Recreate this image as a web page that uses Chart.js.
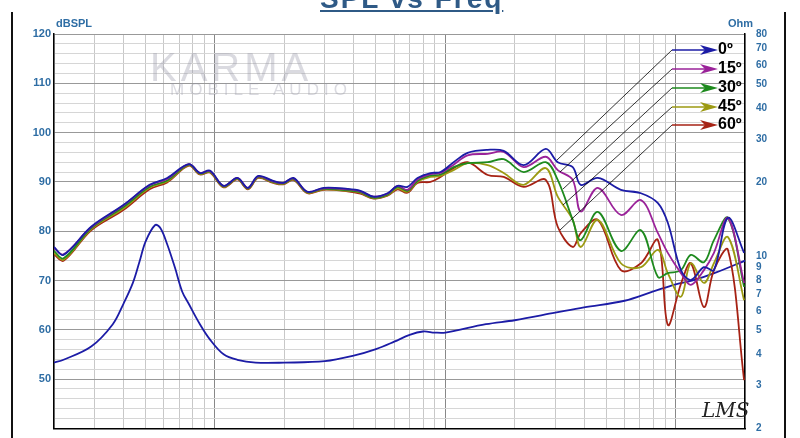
<!DOCTYPE html>
<html>
<head>
<meta charset="utf-8">
<script src="https://cdn.jsdelivr.net/npm/chart.js@4"></script>
<style>
  body { margin: 0; background: #fff; overflow: hidden; }
  #wrap { position: relative; width: 800px; height: 438px; }
  #title { position: absolute; left: 320px; top: -17px; font: bold 28px "Liberation Sans", Arial, sans-serif; color: #2f5a86; text-decoration: underline; letter-spacing: 2px; }
  .unit { position: absolute; top: 17px; font: bold 11px "Liberation Sans", Arial, sans-serif; color: #2e6da4; }
  #mark { position: absolute; left: 150px; top: 45px; font: 40px "Liberation Sans", Arial, sans-serif; color: rgba(150,150,165,0.35); letter-spacing: 4px; }
  #mark2 { position: absolute; left: 170px; top: 80px; font: 17px "Liberation Sans", Arial, sans-serif; color: rgba(150,150,165,0.35); letter-spacing: 5px; }
  #lms { position: absolute; left: 702px; top: 398px; font: italic 20px "DejaVu Serif", serif; color: #222; }
  .frame { position: absolute; top: 12px; width: 2px; height: 426px; background: #111; }
</style>
</head>
<body>
<div id="wrap">
  <canvas id="chart" width="800" height="438"></canvas>
  <div class="frame" style="left:11px"></div>
  <div class="frame" style="left:784px"></div>
  <div id="title">SPL vs Freq</div>
  <div class="unit" style="left:56px">dBSPL</div>
  <div class="unit" style="left:728px">Ohm</div>
  <div id="mark">KARMA</div>
  <div id="mark2">MOBILE AUDIO</div>
  <div id="lms">LMS</div>
</div>
<script>
// frequency points (Hz) shared by the SPL curves
const freqs = [20, 22, 29, 40, 52, 62, 77, 86, 95, 109, 125, 139, 154, 179, 198, 219, 252, 296, 376, 428,
  488, 561, 620, 685, 757, 862, 953, 1086, 1250, 1528, 1792, 2188, 2729, 3076, 3573, 3872, 4592, 5783, 7068, 8376,
  9246, 10540, 11640, 13270, 14660, 16870, 19820];

const spl0 = [76.8, 75.2, 80.9, 85.3, 89.4, 90.8, 93.6, 91.8, 92.3, 89.2, 90.8, 88.8, 91.2, 90.2, 89.8, 90.8, 88.0, 88.8, 88.6, 88.2,
  87.0, 87.7, 89.2, 89.0, 90.8, 91.8, 92.0, 94.0, 95.9, 96.5, 96.3, 93.4, 96.7, 94.0, 93.0, 89.4, 90.8, 88.4, 87.7, 85.7,
  81.7, 72.1, 70.1, 72.7, 72.1, 82.7, 75.6];
const spl15 = [76.6, 75.3, 80.8, 85.2, 89.3, 90.6, 93.6, 91.8, 92.2, 89.2, 90.8, 88.8, 91.1, 90.1, 89.8, 90.7, 88.0, 88.7, 88.5, 88.1,
  87.0, 87.6, 89.2, 88.4, 90.5, 91.6, 91.8, 93.5, 95.4, 95.7, 96.1, 93.0, 95.1, 92.4, 90.4, 84.0, 88.8, 83.3, 86.3, 79.6,
  75.6, 71.5, 69.1, 72.1, 75.6, 82.7, 69.5];
const spl30 = [76.0, 74.5, 80.6, 84.9, 89.0, 90.3, 93.5, 91.7, 92.1, 89.1, 90.7, 88.7, 91.0, 90.0, 89.7, 90.6, 87.9, 88.6, 88.3, 87.9,
  86.8, 87.4, 89.0, 88.2, 90.2, 91.3, 91.5, 93.0, 93.8, 94.0, 94.6, 92.0, 94.0, 90.4, 82.3, 78.2, 83.9, 76.0, 80.2, 70.7,
  71.5, 72.1, 75.2, 73.7, 78.2, 82.7, 68.7];
const spl45 = [75.6, 74.2, 80.4, 84.6, 88.8, 90.1, 93.4, 91.6, 92.0, 89.0, 90.6, 88.6, 90.9, 89.9, 89.6, 90.5, 87.8, 88.5, 88.2, 87.8,
  86.7, 87.3, 88.7, 88.0, 90.0, 91.0, 91.2, 92.4, 93.8, 93.4, 91.8, 89.4, 92.8, 87.0, 82.3, 76.8, 82.3, 73.5, 72.7, 76.2,
  71.5, 66.7, 73.5, 69.5, 73.5, 78.8, 66.0];
const spl60 = [75.3, 74.0, 80.2, 84.3, 88.5, 89.9, 93.3, 91.5, 91.9, 88.9, 90.5, 88.5, 90.8, 89.8, 89.5, 90.4, 87.7, 88.4, 88.1, 87.6,
  86.6, 87.2, 88.5, 87.8, 89.8, 90.0, 91.0, 92.8, 94.0, 91.4, 91.0, 89.0, 90.4, 80.9, 76.8, 79.6, 82.3, 72.1, 73.5, 78.2,
  61.0, 69.3, 73.5, 64.6, 72.1, 76.2, 49.8];

// impedance curve (right axis, ohms)
const impFreqs = [20, 22, 29, 36, 40, 44, 47, 50, 55, 58, 62, 67, 72, 77, 86, 95, 109, 125, 150, 200, 300, 400, 500, 600,
  700, 800, 900, 1000, 1500, 2000, 3000, 4000, 6000, 8000, 10000, 12000, 15000, 20000];
const impOhms = [3.7, 3.8, 4.3, 5.3, 6.4, 7.8, 9.5, 11.5, 13.4, 13.0, 11.2, 9.0, 7.2, 6.4, 5.3, 4.6, 4.0, 3.8, 3.7, 3.7, 3.75, 3.95,
  4.2, 4.5, 4.8, 4.95, 4.9, 4.9, 5.3, 5.5, 5.9, 6.2, 6.6, 7.2, 7.7, 8.0, 8.6, 9.6];

const angleLabels = ['0º', '15º', '30º', '45º', '60º'];
const angleColors = ['#1c1ca6', '#9a2299', '#1e8a1e', '#9c9a12', '#a62214'];
const ohmTicks = [2, 3, 4, 5, 6, 7, 8, 9, 10, 20, 30, 40, 50, 60, 70, 80];

const splSets = [spl0, spl15, spl30, spl45, spl60].map((vals, i) => ({
    label: angleLabels[i],
    data: freqs.map((f, j) => ({ x: f, y: vals[j] })),
    borderColor: angleColors[i],
    borderWidth: 1.8,
    pointRadius: 0,
    tension: 0.35,
    yAxisID: 'y'
}));

// callouts pointing from the angle labels to the curves
const legendPlugin = {
    id: 'angleCallouts',
    afterDatasetsDraw(chart) {
        const c = chart.ctx;
        const rows = [50, 69, 88, 107, 125];
        const ends = [[557, 160], [560, 172], [563, 189], [563, 205], [560, 230]];
        c.save();
        rows.forEach((y, i) => {
            c.strokeStyle = '#000';
            c.lineWidth = 0.8;
            c.beginPath();
            c.moveTo(672, y);
            c.lineTo(ends[i][0], ends[i][1]);
            c.stroke();
            c.strokeStyle = angleColors[i];
            c.lineWidth = 1.5;
            c.beginPath();
            c.moveTo(672, y);
            c.lineTo(708, y);
            c.stroke();
            c.fillStyle = angleColors[i];
            c.beginPath();
            c.moveTo(718, y);
            c.lineTo(700, y - 5);
            c.lineTo(705, y);
            c.lineTo(700, y + 5);
            c.closePath();
            c.fill();
            c.fillStyle = '#000';
            c.font = 'bold 16px "Liberation Sans", Arial, sans-serif';
            c.textBaseline = 'middle';
            c.fillText(angleLabels[i], 718, y);
        });
        c.restore();
    }
};

new Chart(document.getElementById('chart'), {
    type: 'line',
    data: {
        datasets: splSets.concat([{
            label: 'Impedance',
            data: impFreqs.map((f, j) => ({ x: f, y: impOhms[j] })),
            borderColor: '#1c1ca6',
            borderWidth: 1.8,
            pointRadius: 0,
            tension: 0.35,
            yAxisID: 'y2'
        }])
    },
    options: {
        responsive: false,
        animation: false,
        layout: { padding: { top: 34, bottom: 9 } },
        plugins: { legend: { display: false }, tooltip: { enabled: false } },
        scales: {
            x: {
                type: 'logarithmic',
                min: 20,
                max: 20000,
                ticks: {
                    display: false,
                    callback: v => v
                },
                afterBuildTicks(axis) {
                    const t = [];
                    [10, 100, 1000, 10000].forEach(d => {
                        for (let k = 1; k < 10; k++) {
                            const v = d * k;
                            if (v >= 20 && v <= 20000) t.push({ value: v });
                        }
                    });
                    axis.ticks = t;
                },
                grid: {
                    drawTicks: false,
                    color: ctx => {
                        const v = ctx.tick && ctx.tick.value;
                        return [100, 1000, 10000].includes(v) ? '#888' : '#c8c8c8';
                    }
                },
                border: { color: '#000', width: 1.5 }
            },
            y: {
                position: 'left',
                min: 40,
                max: 120,
                ticks: {
                    stepSize: 2,
                    autoSkip: false,
                    color: '#2e6da4',
                    font: { family: 'Liberation Sans', size: 11, weight: 'bold' },
                    callback: v => (v % 10 === 0 && v > 40) ? v : ''
                },
                grid: {
                    drawTicks: false,
                    color: ctx => (ctx.tick && ctx.tick.value % 10 === 0) ? '#999' : '#d6d6d6'
                },
                border: { color: '#000', width: 1.5 },
                afterFit(axis) { axis.width = 54; }
            },
            y2: {
                type: 'logarithmic',
                position: 'right',
                min: 2,
                max: 80,
                afterBuildTicks(axis) {
                    axis.ticks = ohmTicks.map(v => ({ value: v }));
                },
                ticks: {
                    autoSkip: false,
                    color: '#2e6da4',
                    font: { family: 'Liberation Sans', size: 10, weight: 'bold' },
                    callback: v => v
                },
                grid: { display: false },
                border: { color: '#000', width: 1.5 },
                afterFit(axis) { axis.width = 55; }
            }
        }
    },
    plugins: [legendPlugin]
});
</script>
</body>
</html>
